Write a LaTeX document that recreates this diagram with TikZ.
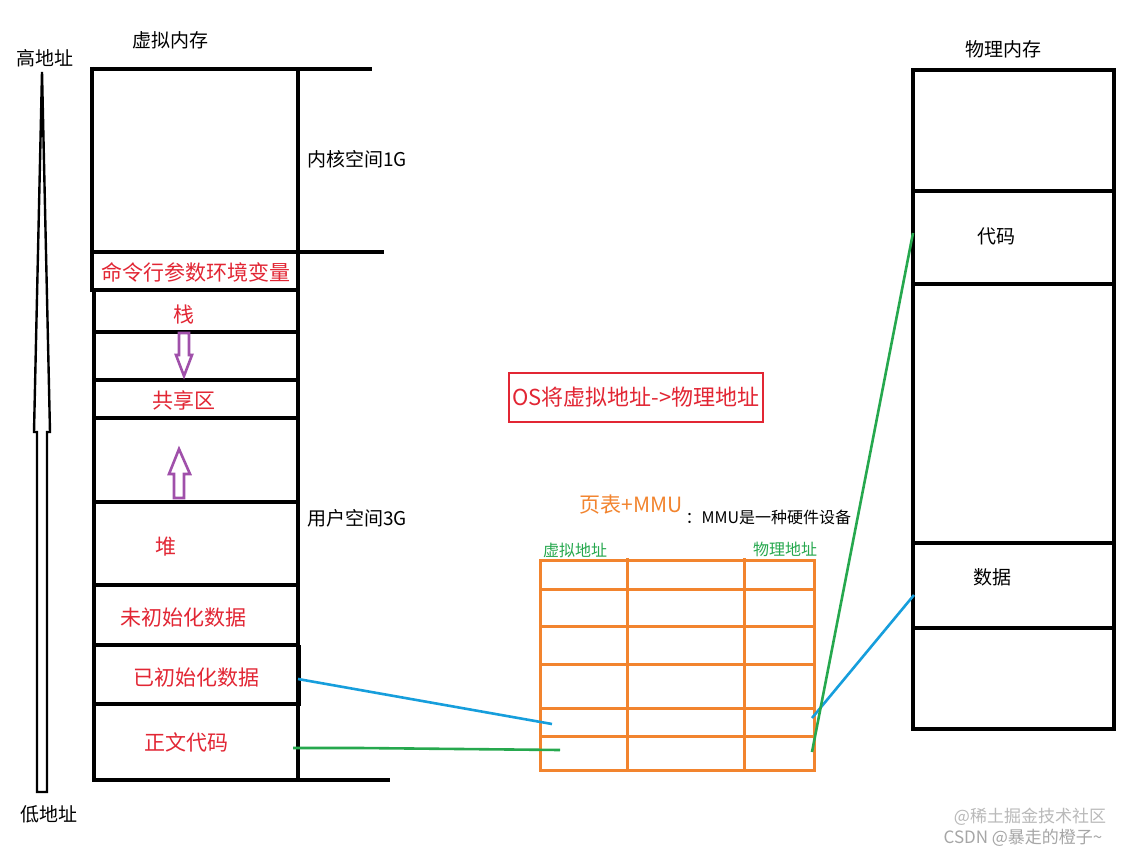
\documentclass[tikz,border=0pt]{standalone}
\usepackage{fontspec}
\newfontfamily\cjk{Noto Sans CJK SC}
\newcommand{\fsz}[1]{\fontsize{#1}{#1}\selectfont}

\begin{document}
\begin{tikzpicture}[x=1pt,y=-1pt,line join=miter,
  thk/.style={line width=3.5pt},
  blk/.style={font=\cjk\fsz{19}},
  seg/.style={text=myred,font=\cjk\fsz{21}},
  tbl/.style={draw=myorange,line width=3pt},
  hollow/.style={draw=mypurple,line width=2.6pt,fill=white},
  link/.style={line width=2.6pt}]
\definecolor{myred}{RGB}{226,38,52}
\definecolor{mypurple}{RGB}{160,80,170}
\definecolor{myorange}{RGB}{242,132,46}
\definecolor{mygreen}{RGB}{38,168,78}
\definecolor{myblue}{RGB}{22,158,220}
\useasboundingbox (0,0) rectangle (1132,856);
\fill[white] (0,0) rectangle (1132,856);
% adresses
\draw[line width=2.4pt] (37,792) -- (37,432) -- (34,432) -- (42,72) -- (50,432) -- (47,432) -- (47,792) -- cycle;
\node[blk] (haut) at (45,58) {高地址};
\node[blk] (bas) at (49,814) {低地址};
% memoire virtuelle
\node[blk] (virt) at (170,40) {虚拟内存};
\draw[thk] (90,69) -- (372,69);
\draw[line width=4.5pt] (92,67) -- (92,292);
\draw[thk] (298,69) -- (298,780);
\draw[thk] (92,252) -- (384,252);
\draw[line width=4pt] (92,290) -- (298,290);
\draw[thk] (94,290) -- (94,782);
\foreach \y in {332,380,418} \draw[thk] (94,\y) -- (298,\y);
\draw[line width=3.8pt] (94,502) -- (298,502);
\foreach \y in {585,645,704} \draw[line width=4.2pt] (92,\y) -- (300,\y);
\draw[line width=4.5pt] (299,645) -- (299,706);
\draw[thk] (92,780) -- (390,780);
\node[blk] (noyau) at (357,159) {内核空间1G};
\node[blk] (user) at (357,518) {用户空间3G};
\node[seg] (env) at (196,272) {命令行参数环境变量};
\node[seg] (pile) at (184,315) {栈};
\node[seg] (partage) at (184,400) {共享区};
\node[seg] (tas) at (166,547) {堆};
\node[seg] (bss) at (183,618) {未初始化数据};
\node[seg] (data) at (196,678) {已初始化数据};
\node[seg] (texte) at (186,742) {正文代码};
\draw[hollow] (179,333) -- (189,333) -- (189,355) -- (192,355) -- (184,376) -- (176,355) -- (179,355) -- cycle;
\draw[hollow] (174,498) -- (184,498) -- (184,474) -- (190,474) -- (179,449) -- (169,474) -- (174,474) -- cycle;
% OS
\node[draw=myred,line width=2.8pt,text=myred,font=\cjk\fsz{22},minimum width=254pt,minimum height=49pt] (os) at (636,397.5) {OS将虚拟地址->物理地址};
% page table
\node[text=myorange,font=\cjk\fsz{21},anchor=west] (mmu) at (576,505) {页表+MMU};
\node[font=\cjk\fsz{16},anchor=west] (hw) at (682,517) {：MMU是一种硬件设备};
\node[text=mygreen,font=\cjk\fsz{16}] (vaddr) at (575,550) {虚拟地址};
\node[text=mygreen,font=\cjk\fsz{16}] (paddr) at (785,549) {物理地址};
\draw[tbl] (540,560) rectangle (814,770);
\foreach \y in {589,626,664,708,736} \draw[tbl] (540,\y) -- (814,\y);
\draw[tbl] (627,558) -- (627,772);
\draw[tbl] (744,558) -- (744,772);
% memoire physique
\node[blk] (phys) at (1003,49) {物理内存};
\draw[thk] (913,70) rectangle (1114,729);
\foreach \y in {191,284,543,628} \draw[thk] (913,\y) -- (1114,\y);
\node[blk] (code) at (996,236) {代码};
\node[blk] (donnees) at (992,577) {数据};
% liens
\coordinate (dataR) at (298,679);
\coordinate (tdata) at (552,724);
\coordinate (tphysd) at (812,718);
\coordinate (physd) at (914,595);
\coordinate (texteR) at (293,748);
\coordinate (coude) at (360,748);
\coordinate (ttexte) at (560,750);
\coordinate (tphysc) at (812,752);
\coordinate (physc) at (913,233);
\draw[link,myblue] (dataR) -- (tdata);
\draw[link,myblue] (tphysd) -- (physd);
\draw[link,mygreen] (texteR) -- (coude) -- (ttexte);
\draw[link,mygreen] (tphysc) -- (physc);
% filigrane
\node[text=gray!55,font=\cjk\fsz{17}] (wm1) at (1030,817) {@稀土掘金技术社区};
\node[text=gray!70,font=\cjk\fsz{17}] (wm2) at (1023,838) {CSDN @暴走的橙子\textasciitilde};
\end{tikzpicture}
\end{document}
